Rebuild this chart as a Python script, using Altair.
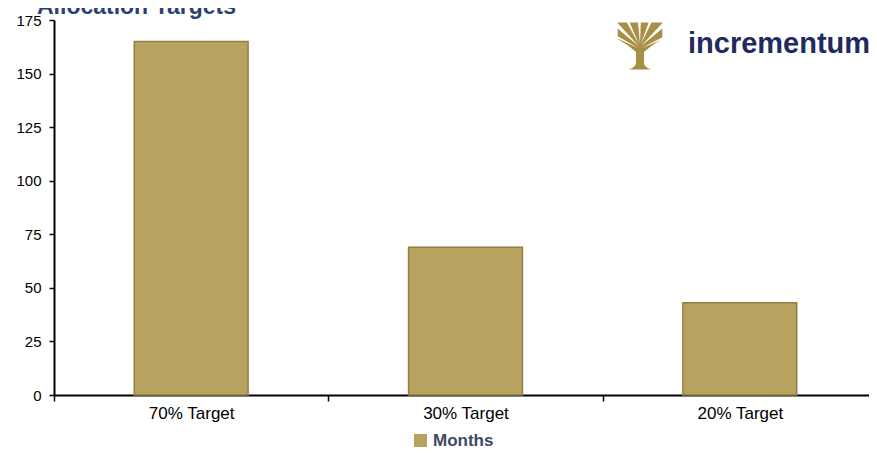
import altair as alt
import pandas as pd

categories = ["70% Target", "30% Target", "20% Target"]
months = [165, 69, 43]
series_name = "Months"
y_ticks = [0, 25, 50, 75, 100, 125, 150, 175]
title_text = "Allocation Targets"
logo_text = "incrementum"

df = pd.DataFrame({"cat": categories, "val": months, "series": [series_name] * len(categories)})

FONT = "Liberation Sans"
GOLD = "#b7a260"

bars = alt.Chart(df).mark_bar(stroke="#917f46", strokeWidth=1.5,
                              width=alt.RelativeBandSize(0.415)).encode(
    x=alt.X("cat:N", sort=categories, title=None,
            scale=alt.Scale(paddingInner=0, paddingOuter=0),
            axis=alt.Axis(labelAngle=0, tickBand="extent", tickSize=6, tickColor="black",
                          tickWidth=1.5, domainColor="black", domainWidth=2,
                          labelColor="black", labelFont=FONT, labelFontSize=17,
                          labelPadding=4, grid=False)),
    y=alt.Y("val:Q", title=None,
            scale=alt.Scale(domain=[0, 175], nice=False),
            axis=alt.Axis(values=y_ticks, tickSize=5, tickColor="black", tickWidth=1.5,
                          domainColor="black", domainWidth=2, labelColor="black",
                          labelFont=FONT, labelFontSize=15, labelPadding=8, grid=False)),
    color=alt.Color("series:N", title=None,
                    scale=alt.Scale(range=[GOLD]),
                    legend=alt.Legend(orient="none", legendX=358, legendY=412,
                                      symbolType="square", symbolSize=169,
                                      symbolStrokeWidth=0, labelFont=FONT,
                                      labelFontSize=17, labelFontWeight="bold",
                                      labelColor="#3b4a66", labelOffset=4, padding=0)),
)

title = alt.Chart(pd.DataFrame({"t": [title_text]})).mark_text(
    font=FONT, fontSize=23, fontWeight="bold", color="#2c4170", align="left", baseline="alphabetic"
).encode(x=alt.value(-17), y=alt.value(-6), text="t:N")

logo = alt.Chart(pd.DataFrame({"t": [logo_text]})).mark_text(
    font=FONT, fontSize=29, fontWeight="bold", color="#1f2b5e", align="left", baseline="alphabetic"
).encode(x=alt.value(634), y=alt.value(33), text="t:N")

tree_path = (
    "M -0.95 -1 L 0.95 -1 L 0.95 -0.3 Q 0.5 -0.05 0.17 0.25 L 0.17 0.75 "
    "Q 0.22 0.9 0.48 1 L -0.48 1 Q -0.22 0.9 -0.17 0.75 L -0.17 0.25 "
    "Q -0.5 -0.05 -0.95 -0.3 Z"
)
gap_path = (
    "M -0.05 0.1 L -1.2 -0.55 L -1.2 -0.43 Z "
    "M -0.06 0.0 L -1.2 -0.95 L -1.08 -1.12 Z "
    "M -0.04 -0.05 L -0.64 -1.15 L -0.5 -1.15 Z "
    "M 0.0 -0.1 L -0.1 -1.15 L 0.04 -1.15 Z "
    "M 0.03 -0.05 L 0.42 -1.15 L 0.56 -1.15 Z "
    "M 0.05 0.0 L 1.08 -1.12 L 1.2 -0.95 Z "
    "M 0.05 0.1 L 1.2 -0.5 L 1.2 -0.38 Z"
)
tree_df = pd.DataFrame({"t": ["logo"]})
tree = alt.Chart(tree_df).mark_point(
    shape=tree_path, filled=True, color="#a98f45", opacity=1, size=2209, strokeWidth=0
).encode(x=alt.value(586), y=alt.value(26))
tree_gaps = alt.Chart(tree_df).mark_point(
    shape=gap_path, filled=True, color="white", opacity=1, size=2209, strokeWidth=0
).encode(x=alt.value(586), y=alt.value(26))

chart = alt.layer(bars, title, logo, tree, tree_gaps).properties(
    width=823, height=375,
    autosize=alt.AutoSizeParams(type="none"),
    padding={"left": 46, "top": 12, "right": -8, "bottom": 54},
).configure_view(stroke=None)

chart.save("out.html", embed_options={
    "renderer": "svg", "actions": False,
    "defaultStyle": ".vega-embed svg{display:block}",
})
